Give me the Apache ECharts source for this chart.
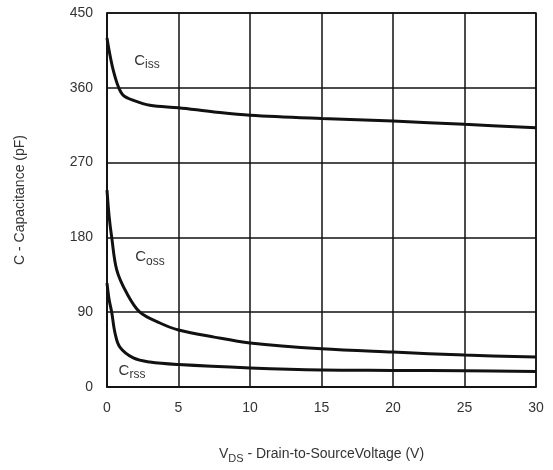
<!DOCTYPE html>
<html><head><meta charset="utf-8">
<script src="https://cdn.jsdelivr.net/npm/echarts@6/dist/echarts.min.js"></script>
<style>html,body{margin:0;padding:0;background:#fff}#c{width:553px;height:470px}</style>
</head><body><div id="c"></div>
<script>
const xTicks = [0, 5, 10, 15, 20, 25, 30];
const yTicks = [0, 90, 180, 270, 360, 450];
const cissV = [0, 0.2, 0.44, 0.8, 1.14, 1.84, 3, 5, 7.5, 10, 15, 20, 25, 30];
const cissC = [420, 400, 381, 361, 351, 345, 339, 336, 331, 327, 323, 320, 316, 312];
const cossV = [0, 0.15, 0.33, 0.68, 1.38, 2.3, 3.7, 5, 7.5, 10, 15, 20, 25, 30];
const cossC = [237, 205, 180, 141, 113, 90, 77, 68.6, 60, 53, 46, 42, 38.5, 36];
const crssV = [0, 0.15, 0.33, 0.56, 0.9, 1.84, 3, 5, 10, 15, 20, 25, 30];
const crssC = [125, 105, 90, 65, 48, 35, 30, 27, 23, 20.5, 20, 19.5, 18.5];
const labels = [
  {main: 'C', sub: 'iss', at: [2.8, 393]},
  {main: 'C', sub: 'oss', at: [3.0, 156]},
  {main: 'C', sub: 'rss', at: [1.75, 20]}
];
const pairs = (xs, ys) => xs.map((x, i) => [x, ys[i]]);
const font = '"Liberation Sans", Arial, sans-serif';
const rich = {
  m: {fontSize: 15, color: '#333', fontFamily: font},
  s: {fontSize: 12, color: '#333', fontFamily: font, padding: [8, 0, 0, 0]}
};
function mkSeries(name, xs, ys, lab) {
  return {
    name, type: 'line', data: pairs(xs, ys), smooth: 0.35,
    showSymbol: false, silent: true,
    lineStyle: {color: '#111', width: 3},
    markPoint: {
      symbol: 'circle', symbolSize: 0, silent: true,
      data: [{coord: lab.at, label: {show: true, position: 'inside', formatter: '{m|' + lab.main + '}{s|' + lab.sub + '}', rich}}]
    }
  };
}
const chart = echarts.init(document.getElementById('c'), null, {renderer: 'canvas'});
chart.setOption({
  animation: false,
  backgroundColor: '#fff',
  grid: {left: 107, top: 13, right: 17, bottom: 83, show: true, borderColor: '#111', borderWidth: 1.5},
  xAxis: {
    type: 'value', min: xTicks[0], max: xTicks[xTicks.length - 1], interval: 5,
    axisLine: {show: true, lineStyle: {color: '#111', width: 1.5}},
    axisTick: {show: false},
    splitLine: {show: true, lineStyle: {color: '#111', width: 1.5}},
    axisLabel: {color: '#333', fontSize: 14, fontFamily: font, margin: 14},
    name: '{m|V}{s|DS}{m| - Drain-to-SourceVoltage (V)}',
    nameLocation: 'middle', nameGap: 58,
    nameTextStyle: {rich: {m: {fontSize: 14, color: '#333', fontFamily: font}, s: {fontSize: 11, color: '#333', fontFamily: font, padding: [8, 0, 0, 0]}}}
  },
  yAxis: {
    type: 'value', min: yTicks[0], max: yTicks[yTicks.length - 1], interval: 90,
    axisLine: {show: true, lineStyle: {color: '#111', width: 1.5}},
    axisTick: {show: false},
    splitLine: {show: true, lineStyle: {color: '#111', width: 1.5}},
    axisLabel: {color: '#333', fontSize: 14, fontFamily: font, margin: 14},
    name: 'C - Capacitance (pF)',
    nameLocation: 'middle', nameGap: 80,
    nameTextStyle: {color: '#333', fontSize: 14, fontFamily: font}
  },
  series: [
    mkSeries('Ciss', cissV, cissC, labels[0]),
    mkSeries('Coss', cossV, cossC, labels[1]),
    mkSeries('Crss', crssV, crssC, labels[2])
  ]
});
</script></body></html>
